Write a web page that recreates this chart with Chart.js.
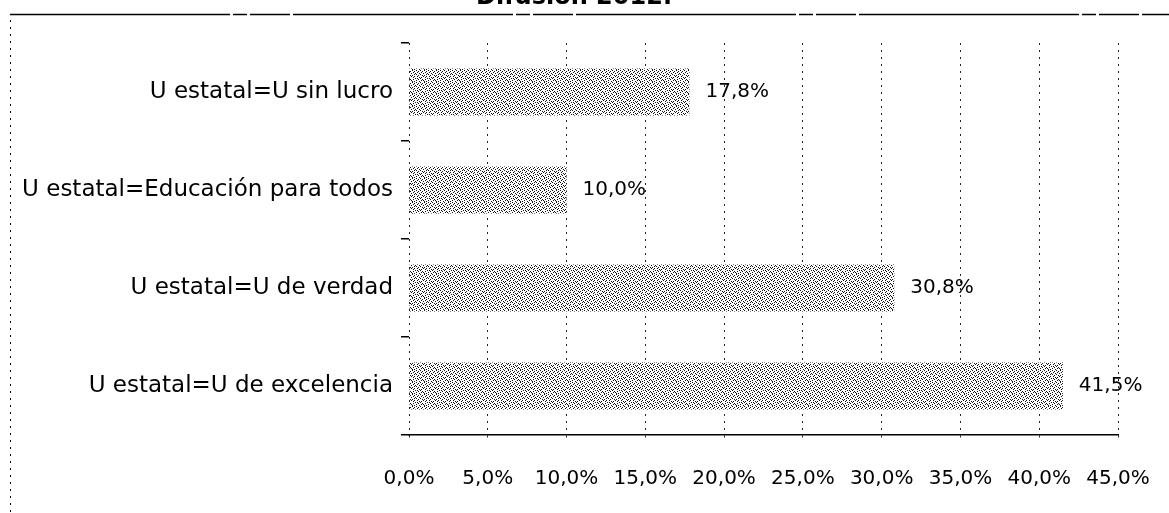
<!DOCTYPE html>
<html>
<head>
<meta charset="utf-8">
<script src="https://cdn.jsdelivr.net/npm/chart.js@4/dist/chart.umd.min.js"></script>
<style>
  html, body { margin: 0; padding: 0; background: #fff; overflow: hidden; }
  #wrap { position: absolute; left: 0; top: -14px; width: 1169px; height: 527px; }
</style>
</head>
<body>
<div id="wrap"><canvas id="chart_1"></canvas></div>
<script>
// data
var categories = ['U estatal=U sin lucro', 'U estatal=Educación para todos', 'U estatal=U de verdad', 'U estatal=U de excelencia'];
var values = [17.8, 10.0, 30.8, 41.5];
var tickMax = 45;
var tickStep = 5;
var titleText = 'Difusión 2012.';

var FONT = '"DejaVu Sans"';

function fmtPct(v) {
  return v.toFixed(1).replace('.', ',') + '%';
}

// stippled fill like the scanned bars
function makeStipple() {
  var rows = [
    '100010001000',
    '001000100010',
    '010001000100',
    '000100010001',
    '100000101000',
    '001010000010',
    '000100100100',
    '010001000001',
    '100000010100',
    '001001000010',
    '010100001000',
    '000010100001'
  ];
  var c = document.createElement('canvas');
  c.width = rows[0].length;
  c.height = rows.length;
  var g = c.getContext('2d');
  g.fillStyle = '#ffffff';
  g.fillRect(0, 0, c.width, c.height);
  g.fillStyle = '#111111';
  for (var y = 0; y < rows.length; y++) {
    for (var x = 0; x < rows[y].length; x++) {
      if (rows[y][x] === '1') g.fillRect(x, y, 1, 1);
    }
  }
  return g.createPattern(c, 'repeat');
}

var frame = {
  id: 'frame',
  afterDraw: function(chart) {
    var ctx = chart.ctx;
    ctx.save();
    // title, half cut by the top edge as in the scan
    ctx.fillStyle = '#000';
    ctx.font = 'bold 24px ' + FONT;
    ctx.textAlign = 'center';
    ctx.textBaseline = 'alphabetic';
    ctx.fillText(titleText, 574, 18);
    // frame lines
    ctx.strokeStyle = '#000';
    ctx.lineWidth = 1.5;
    ctx.setLineDash([220, 3, 14, 3, 40, 3]);
    ctx.beginPath();
    ctx.moveTo(10, 28.5);
    ctx.lineTo(1169, 28.5);
    ctx.stroke();
    ctx.lineWidth = 1;
    ctx.setLineDash([2, 5]);
    ctx.beginPath();
    ctx.moveTo(10.5, 34);
    ctx.lineTo(10.5, 527);
    ctx.stroke();
    // dotted y axis
    var a = chart.chartArea;
    ctx.strokeStyle = '#222';
    ctx.beginPath();
    ctx.moveTo(Math.round(a.left) + 0.5, a.top);
    ctx.lineTo(Math.round(a.left) + 0.5, a.bottom + 5);
    ctx.stroke();
    ctx.restore();
  }
};

var barLabels = {
  id: 'barLabels',
  afterDatasetsDraw: function(chart) {
    var ctx = chart.ctx;
    var meta = chart.getDatasetMeta(0);
    ctx.save();
    ctx.fillStyle = '#000';
    ctx.font = '20px ' + FONT;
    ctx.textAlign = 'left';
    ctx.textBaseline = 'middle';
    meta.data.forEach(function(bar, i) {
      ctx.fillText(fmtPct(values[i]), bar.x + 16, bar.y);
    });
    ctx.restore();
  }
};

var ctx_1 = document.getElementById('chart_1').getContext('2d');
var chart_1 = new Chart(ctx_1, {
  type: 'bar',
  data: {
    labels: categories,
    datasets: [{
      data: values,
      backgroundColor: makeStipple(),
      borderWidth: 0,
      barPercentage: 0.48,
      categoryPercentage: 1.0
    }]
  },
  options: {
    indexAxis: 'y',
    responsive: true,
    maintainAspectRatio: false,
    animation: false,
    layout: {
      padding: { left: 0, right: 51, top: 57, bottom: 0 }
    },
    plugins: {
      legend: { display: false },
      tooltip: { enabled: false },
      title: { display: false }
    },
    scales: {
      x: {
        min: 0,
        max: tickMax,
        afterFit: function(scale) {
          scale.height = 78;
          scale.paddingLeft = 0;
          scale.paddingRight = 0;
        },
        ticks: {
          stepSize: tickStep,
          color: '#000',
          padding: 27,
          font: { family: FONT, size: 20 },
          callback: function(v) { return fmtPct(v); }
        },
        grid: {
          color: '#222',
          lineWidth: 1,
          tickLength: 5,
          drawTicks: true,
          tickBorderDash: [2, 3]
        },
        border: {
          display: true,
          color: '#000',
          width: 1.5,
          dash: [2, 5]
        }
      },
      y: {
        afterFit: function(scale) { scale.width = 409; },
        ticks: {
          color: '#000',
          padding: 8,
          font: { family: FONT, size: 23 }
        },
        grid: {
          offset: true,
          drawOnChartArea: false,
          drawTicks: true,
          tickLength: 8,
          color: '#000',
          lineWidth: 1.5
        },
        border: {
          display: false
        }
      }
    }
  },
  plugins: [frame, barLabels]
});
</script>
</body>
</html>
